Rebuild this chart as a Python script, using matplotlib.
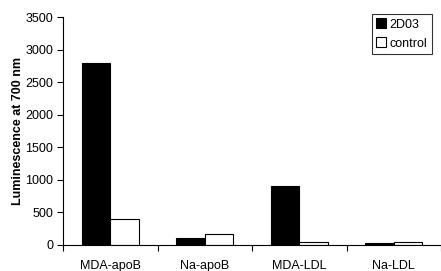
import matplotlib
matplotlib.use("Agg")
import matplotlib.pyplot as plt
import numpy as np

plt.rcParams['font.family'] = ['Liberation Sans', 'DejaVu Sans']

categories = ["MDA-apoB", "Na-apoB", "MDA-LDL", "Na-LDL"]
d03 = [2800, 100, 900, 30]
control = [400, 170, 50, 50]

fig = plt.figure(figsize=(4.41, 2.71), dpi=100)
ax = fig.add_axes([0.143, 0.096, 0.857, 0.841])

x = np.arange(len(categories))
w = 0.3
ax.bar(x - w / 2, d03, w, color="black", edgecolor="black", linewidth=0.8, label="2D03")
ax.bar(x + w / 2, control, w, color="white", edgecolor="black", linewidth=0.8, label="control")

ax.set_xlim(-0.5, 3.5)
ax.set_ylim(0, 3500)
ax.set_yticks(range(0, 3501, 500))
ax.set_xticks(np.arange(-0.5, 4, 1))
ax.set_xticklabels([])
ax.set_xticks(x, minor=True)
ax.set_xticklabels(categories, minor=True)
ax.tick_params(axis="x", which="minor", length=0, pad=11, labelsize=9)
ax.tick_params(axis="x", which="major", length=4, width=0.8)
ax.tick_params(axis="y", length=4, width=0.8, labelsize=9, pad=3)

for s in ["top", "right"]:
    ax.spines[s].set_visible(False)
ax.spines["left"].set_linewidth(0.8)
ax.spines["bottom"].set_linewidth(0.8)

ax.set_ylabel("Luminescence at 700 nm", fontsize=9, fontweight="bold", labelpad=1)

leg = ax.legend(loc="upper right", bbox_to_anchor=(0.976, 1.013), fontsize=9,
                frameon=True, fancybox=False, edgecolor="black",
                handlelength=0.8, handleheight=0.8, handletextpad=0.3,
                borderpad=0.35, labelspacing=0.55, borderaxespad=0)
leg.get_frame().set_linewidth(0.8)

fig.savefig("out.png", dpi=100)
